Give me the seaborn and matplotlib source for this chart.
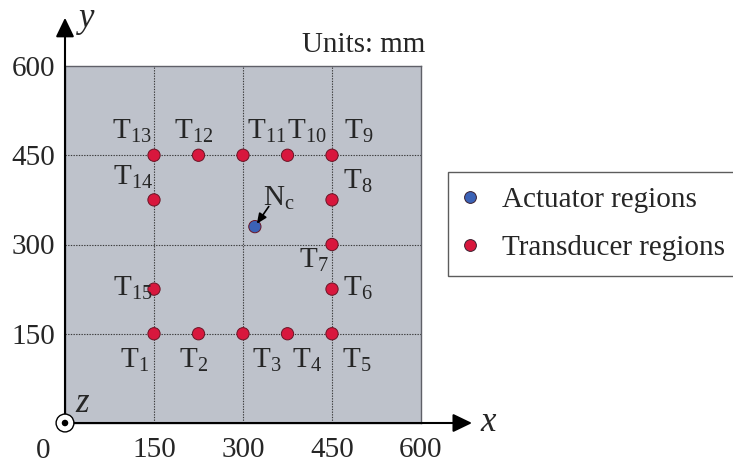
import matplotlib
matplotlib.use("Agg")
import matplotlib.pyplot as plt
from matplotlib.patches import Circle
import pandas as pd
import seaborn as sns

# Sensor layout on a 600 mm x 600 mm plate
transducer_x = [150, 225, 300, 375, 450, 450, 450, 450, 450, 375, 300, 225, 150, 150, 150]
transducer_y = [150, 150, 150, 150, 150, 225, 300, 375, 450, 450, 450, 450, 450, 375, 225]
transducer_names = [f"T{i}" for i in range(1, 16)]
actuator_x = [320]
actuator_y = [330]
actuator_names = ["Nc"]
tick_values = [150, 300, 450, 600]
region_labels = ["Actuator regions", "Transducer regions"]

sns.set_style("white")
plt.rcParams["font.family"] = ["Liberation Serif", "DejaVu Serif"]
plt.rcParams["mathtext.fontset"] = "custom"
plt.rcParams["mathtext.rm"] = "Liberation Serif"
plt.rcParams["mathtext.it"] = "Liberation Serif:italic"

FS = 21
PLATE = "#BEC2CB"
RED = "#D8173D"
BLUE = "#3B62B6"

df = pd.DataFrame({
    "x": actuator_x + transducer_x,
    "y": actuator_y + transducer_y,
    "Region": [region_labels[0]] * len(actuator_x) + [region_labels[1]] * len(transducer_x),
})

fig = plt.figure(figsize=(7.33, 4.63), dpi=100)
ax = fig.add_axes([65 / 733, 40 / 463, 356 / 733, 357 / 463])
ax.set_facecolor(PLATE)
ax.set_xlim(0, 600)
ax.set_ylim(0, 600)
for side in ["top", "right", "left", "bottom"]:
    ax.spines[side].set_color("#5f6068")
    ax.spines[side].set_linewidth(1.0)

# dotted reference grid
for v in tick_values[:-1]:
    ax.axvline(v, color="#3a3a3a", lw=0.8, ls=(0, (1.2, 1.2)), zorder=1)
    ax.axhline(v, color="#3a3a3a", lw=0.8, ls=(0, (1.2, 1.2)), zorder=1)

sns.scatterplot(
    data=df, x="x", y="y", hue="Region",
    palette={region_labels[0]: BLUE, region_labels[1]: RED},
    s=78, edgecolor="#6a1526", linewidth=0.7, zorder=4, ax=ax, clip_on=False,
)

# ticks
ax.set_xticks(tick_values)
ax.set_yticks(tick_values)
ax.set_xticklabels([str(v) for v in tick_values])
ax.set_yticklabels([str(v) for v in tick_values])
ax.tick_params(axis="x", length=0, pad=10, labelsize=FS)
ax.tick_params(axis="y", length=0, pad=7, labelsize=FS)
ax.set_xlabel("")
ax.set_ylabel("")
ax.text(-37, -47, "0", fontsize=FS, ha="center", va="center", clip_on=False)

# coordinate axes with arrow heads
arrow_style = "-|>,head_length=0.58,head_width=0.28"
ax.annotate("", xy=(686, 0), xytext=(0, 0), xycoords="data",
            arrowprops=dict(arrowstyle=arrow_style, mutation_scale=20, color="black",
                            lw=1.5, shrinkA=0, shrinkB=0), annotation_clip=False, zorder=5)
ax.annotate("", xy=(0, 681), xytext=(0, 0), xycoords="data",
            arrowprops=dict(arrowstyle=arrow_style, mutation_scale=20, color="black",
                            lw=1.5, shrinkA=0, shrinkB=0), annotation_clip=False, zorder=5)
ax.text(700, -13, "x", fontsize=25, style="italic", ha="left", va="baseline", clip_on=False)
ax.text(24, 665, "y", fontsize=25, style="italic", ha="left", va="baseline", clip_on=False)
ax.text(17, 18, "z", fontsize=25, style="italic", ha="left", va="baseline", clip_on=False)

# out-of-plane z axis symbol at the origin
ax.add_patch(Circle((0, 0), 15, facecolor="white", edgecolor="black", lw=1.0,
                    zorder=6, clip_on=False))
ax.add_patch(Circle((0, 0), 5.5, facecolor="black", edgecolor="black", lw=0,
                    zorder=7, clip_on=False))

ax.text(607, 623, "Units: mm", fontsize=FS, ha="right", va="baseline", clip_on=False)

# transducer labels, offsets in points from each marker
label_offsets = [(-24.5, -24.5), (-13.7, -24.5), (6.5, -24.5), (3.6, -24.5), (7.2, -24.5),
                 (7.9, -5.0), (-23.8, -16.6), (7.9, 7.9), (8.6, 12.2), (-0.7, 12.2),
                 (2.9, 12.2), (-17.3, 12.2), (-30.2, 12.2), (-29.5, 10.8), (-29.5, -5.0)]
for name, tx, ty, off in zip(transducer_names, transducer_x, transducer_y, label_offsets):
    ax.annotate(rf"$\mathrm{{T}}_{{{name[1:]}}}$", xy=(tx, ty), xytext=off,
                textcoords="offset points", fontsize=FS, ha="left", va="baseline", zorder=5)

# actuator label with pointer
ax.annotate(r"$\mathrm{N}_{\mathrm{c}}$", xy=(actuator_x[0], actuator_y[0]), xytext=(5.8, 15.1),
            textcoords="offset points", fontsize=FS, ha="left", va="baseline", zorder=5)
ax.annotate("", xy=(actuator_x[0], actuator_y[0]), xytext=(10.0, 14.5),
            textcoords="offset points",
            arrowprops=dict(arrowstyle="-|>,head_length=0.5,head_width=0.22", mutation_scale=12,
                            color="black", lw=1.2, shrinkA=0, shrinkB=2.5), zorder=6)

sns.move_legend(
    ax, loc="upper left", bbox_to_anchor=(448 / 733, 1 - 172 / 463),
    bbox_transform=fig.transFigure, title=None, frameon=True, fancybox=False,
    edgecolor="#333333", fontsize=FS, borderpad=0.5, labelspacing=0.75,
    handlelength=0.52, handletextpad=0.84, borderaxespad=0,
)
leg = ax.get_legend()
leg.get_frame().set_linewidth(1.0)
for h in leg.legend_handles:
    h.set_markersize(8.5)
    h.set_markeredgecolor("#3a2030")
    h.set_markeredgewidth(0.7)

fig.savefig("out.png", dpi=100)
